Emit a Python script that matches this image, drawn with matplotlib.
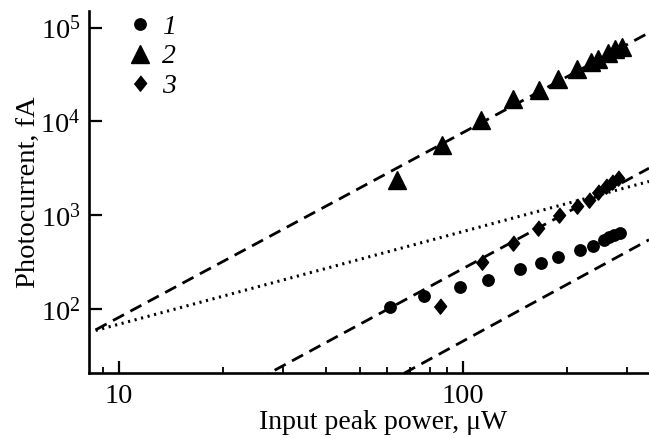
import numpy as np
import matplotlib
matplotlib.use("Agg")
import matplotlib.pyplot as plt
from matplotlib.ticker import LogLocator, LogFormatterMathtext, NullFormatter, FuncFormatter

# series 1 (circles)
power_1 = [61.4, 77.2, 97.7, 118, 146.5, 169, 189, 219, 239, 256, 265, 274, 285]
current_1 = [105, 136, 170, 204, 265, 307, 353, 427, 467, 545, 583, 617, 648]

# series 2 (triangles)
power_2 = [64.2, 86.7, 112.6, 140, 166.3, 188.9, 214.5, 235.6, 247.4, 263.4, 276.7, 289.3]
current_2 = [2380, 5540, 10400, 17300, 21800, 28300, 36200, 42600, 46700, 53700, 59200, 62200]

# series 3 (diamonds)
power_3 = [85.8, 113.3, 139.5, 165.5, 190.2, 214, 232.5, 247.4, 260.4, 270.5, 282.8]
current_3 = [106, 315, 503, 727, 1008, 1236, 1433, 1762, 2021, 2230, 2485]

# fit lines y = a * x**b, drawn from x0
fit_dashed = [(0.871, 1.97, 8.55), (0.0295, 1.98, 20), (0.00453, 2.0, 60)]
fit_dotted = (7.06, 0.988, 8.55)

x_max = 347

plt.rcParams['font.family'] = ['Liberation Serif', 'DejaVu Serif']
plt.rcParams['mathtext.fontset'] = 'custom'
plt.rcParams['mathtext.rm'] = 'Liberation Serif'
plt.rcParams['mathtext.it'] = 'Liberation Serif:italic'

fig = plt.figure(figsize=(6.49, 4.38), dpi=100)
ax = fig.add_axes([89 / 649, 65 / 438, 560 / 649, 362 / 438])

for a, b, x0 in fit_dashed:
    xs = np.logspace(np.log10(x0), np.log10(x_max), 200)
    ax.plot(xs, a * xs ** b, color='black', lw=2.0, ls=(0, (4.5, 2.6)))

a, b, x0 = fit_dotted
xs = np.logspace(np.log10(x0), np.log10(x_max), 200)
ax.plot(xs, a * xs ** b, color='black', lw=2.2, ls=(0, (0.7, 1.5)))

diamond = [(0, 1), (0.8, 0), (0, -1), (-0.8, 0)]
h1, = ax.plot(power_1, current_1, 'o', color='black', ms=8.2, ls='none')
h2, = ax.plot(power_2, current_2, '^', color='black', ms=12.5, ls='none')
h3, = ax.plot(power_3, current_3, marker=diamond, color='black', ms=11, ls='none')

ax.set_xscale('log')
ax.set_yscale('log')
ax.set_xlim(8.18, x_max)
ax.set_ylim(20.7, 1.5e5)

for side in ['top', 'right']:
    ax.spines[side].set_visible(False)
for side in ['left', 'bottom']:
    ax.spines[side].set_linewidth(1.9)

ax.yaxis.set_major_locator(LogLocator(base=10, numticks=10))
ax.yaxis.set_minor_locator(LogLocator(base=10, subs=[], numticks=10))
ax.yaxis.set_major_formatter(LogFormatterMathtext())
ax.xaxis.set_major_locator(LogLocator(base=10, numticks=10))
ax.xaxis.set_minor_locator(LogLocator(base=10, subs=np.arange(2, 10), numticks=10))
ax.xaxis.set_major_formatter(FuncFormatter(lambda v, p: '%d' % v))
ax.xaxis.set_minor_formatter(NullFormatter())

ax.tick_params(which='major', direction='in', length=9, width=1.6, labelsize=20.5, pad=8)
ax.tick_params(axis='y', which='major', pad=6)
ax.tick_params(which='minor', direction='in', length=4, width=1.3)

ax.set_xlabel('Input peak power, μW', fontsize=20)
ax.set_ylabel('Photocurrent, fA', fontsize=20.5)
ax.xaxis.set_label_coords(294 / 560, -37 / 362)
ax.yaxis.set_label_coords(-48 / 560, 0.5)

leg = ax.legend([h1, h2, h3], ['1', '2', '3'], loc='upper left', bbox_to_anchor=(0.019, 1.06),
                frameon=False, handletextpad=0.25, labelspacing=0.15, handlelength=1.1,
                prop={'style': 'italic', 'size': 20})

fig.savefig('out.png', dpi=100)
